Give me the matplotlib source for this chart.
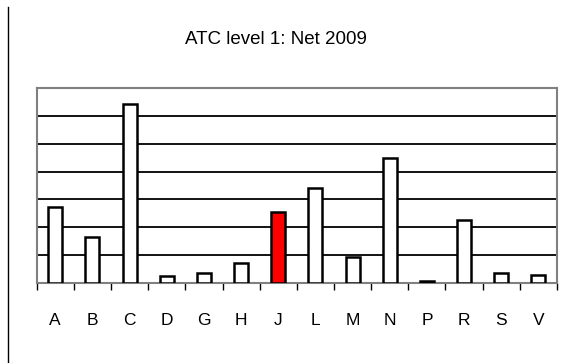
import matplotlib
matplotlib.use("Agg")
import matplotlib.pyplot as plt
from matplotlib.lines import Line2D

# ATC level-1 groups and their net value for 2009 (chart units)
groups = ["A", "B", "C", "D", "G", "H", "J", "L", "M", "N", "P", "R", "S", "V"]
net_2009 = [2.74, 1.66, 6.44, 0.25, 0.34, 0.70, 2.56, 3.40, 0.94, 4.51, 0.05, 2.25, 0.34, 0.27]
highlight = "J"

fig = plt.figure(figsize=(5.76, 3.63), dpi=100)
ax = fig.add_axes([0.0637, 0.2212, 0.9033, 0.535])

colors = ["#ff0000" if g == highlight else "white" for g in groups]
x = list(range(len(groups)))
ax.bar(x, net_2009, width=0.38, color=colors, edgecolor="black", linewidth=1.8, zorder=3)

ax.set_xlim(-0.5, len(groups) - 0.5)
ax.set_ylim(0, 7)
ax.set_yticks(range(1, 7))
ax.yaxis.grid(True, color="black", linewidth=1.3, zorder=1)
ax.tick_params(axis="y", left=False, labelleft=False)

# category ticks sit between the bars, labels centred under them
ax.set_xticks([i - 0.5 for i in range(len(groups) + 1)], minor=False)
ax.set_xticklabels([])
ax.set_xticks(x, minor=True)
ax.set_xticklabels(groups, minor=True, fontsize=12.5, color="black",
                   family=["Liberation Sans", "DejaVu Sans"])
ax.tick_params(axis="x", which="major", direction="out", length=5, width=1, color="black")
ax.tick_params(axis="x", which="minor", length=0, pad=22)

for s in ax.spines.values():
    s.set_color("#808080")
    s.set_linewidth(1.5)

fig.text(0.479, 0.892, "ATC level 1: Net 2009", ha="center", va="center",
         fontsize=13.5, family=["Liberation Sans", "DejaVu Sans"])

# thin rule down the left edge of the sheet
fig.add_artist(Line2D([8.3 / 576, 8.3 / 576], [0, 1 - 7 / 363], color="black", linewidth=1.0))

fig.savefig("out.png", dpi=100)
